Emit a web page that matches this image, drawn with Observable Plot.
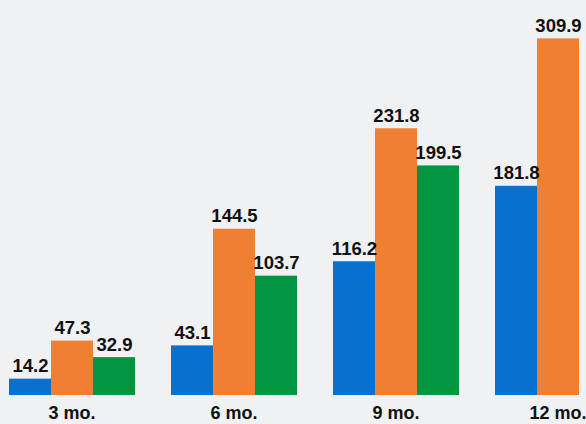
<!DOCTYPE html>
<html>
<head>
<meta charset="utf-8">
<script src="https://cdn.jsdelivr.net/npm/d3@7"></script>
<script src="https://cdn.jsdelivr.net/npm/@observablehq/plot@0.6"></script>
<style>
  html, body { margin: 0; padding: 0; background: #f0f1f3; }
  #chart { width: 586px; height: 424px; overflow: hidden; }
</style>
</head>
<body>
<div id="chart"></div>
<script>
const periods = ["3 mo.", "6 mo.", "9 mo.", "12 mo."];
const seriesNames = ["A", "B", "C"];
const seriesA = [14.2, 43.1, 116.2, 181.8];
const seriesB = [47.3, 144.5, 231.8, 309.9];
const seriesC = [32.9, 103.7, 199.5, null];
const colors = ["#0870cf", "#ee7f33", "#01953f"];

const rows = [];
periods.forEach((p, i) => {
  [seriesA, seriesB, seriesC].forEach((s, j) => {
    if (s[i] != null) rows.push({period: p, series: seriesNames[j], value: s[i]});
  });
});

const font = "'Liberation Sans', Arial, sans-serif";

const chart = Plot.plot({
  width: 586,
  height: 424,
  marginTop: 0,
  marginBottom: 29,
  marginLeft: 0,
  marginRight: 0,
  style: {background: "#f0f1f3", fontFamily: font, overflow: "hidden"},
  fx: {domain: periods, range: [8, 621.5], paddingInner: 0.213, paddingOuter: 0, label: null},
  x: {domain: seriesNames, padding: 0, axis: null},
  y: {domain: [0, 309.9], range: [395, 38.4], axis: null},
  color: {domain: seriesNames, range: colors},
  marks: [
    Plot.axisFx({anchor: "bottom", tickSize: 0, tickPadding: 11, fontSize: 18, fontWeight: "bold", fill: "#111", label: null}),
    Plot.barY(rows, {fx: "period", x: "series", y: "value", fill: "series"}),
    Plot.text(rows, {fx: "period", x: "series", y: "value", text: d => d.value.toFixed(1), lineAnchor: "bottom", dy: -7, fontSize: 18.5, fontWeight: "bold", fill: "#111"})
  ]
});
document.getElementById("chart").append(chart);
</script>
</body>
</html>
